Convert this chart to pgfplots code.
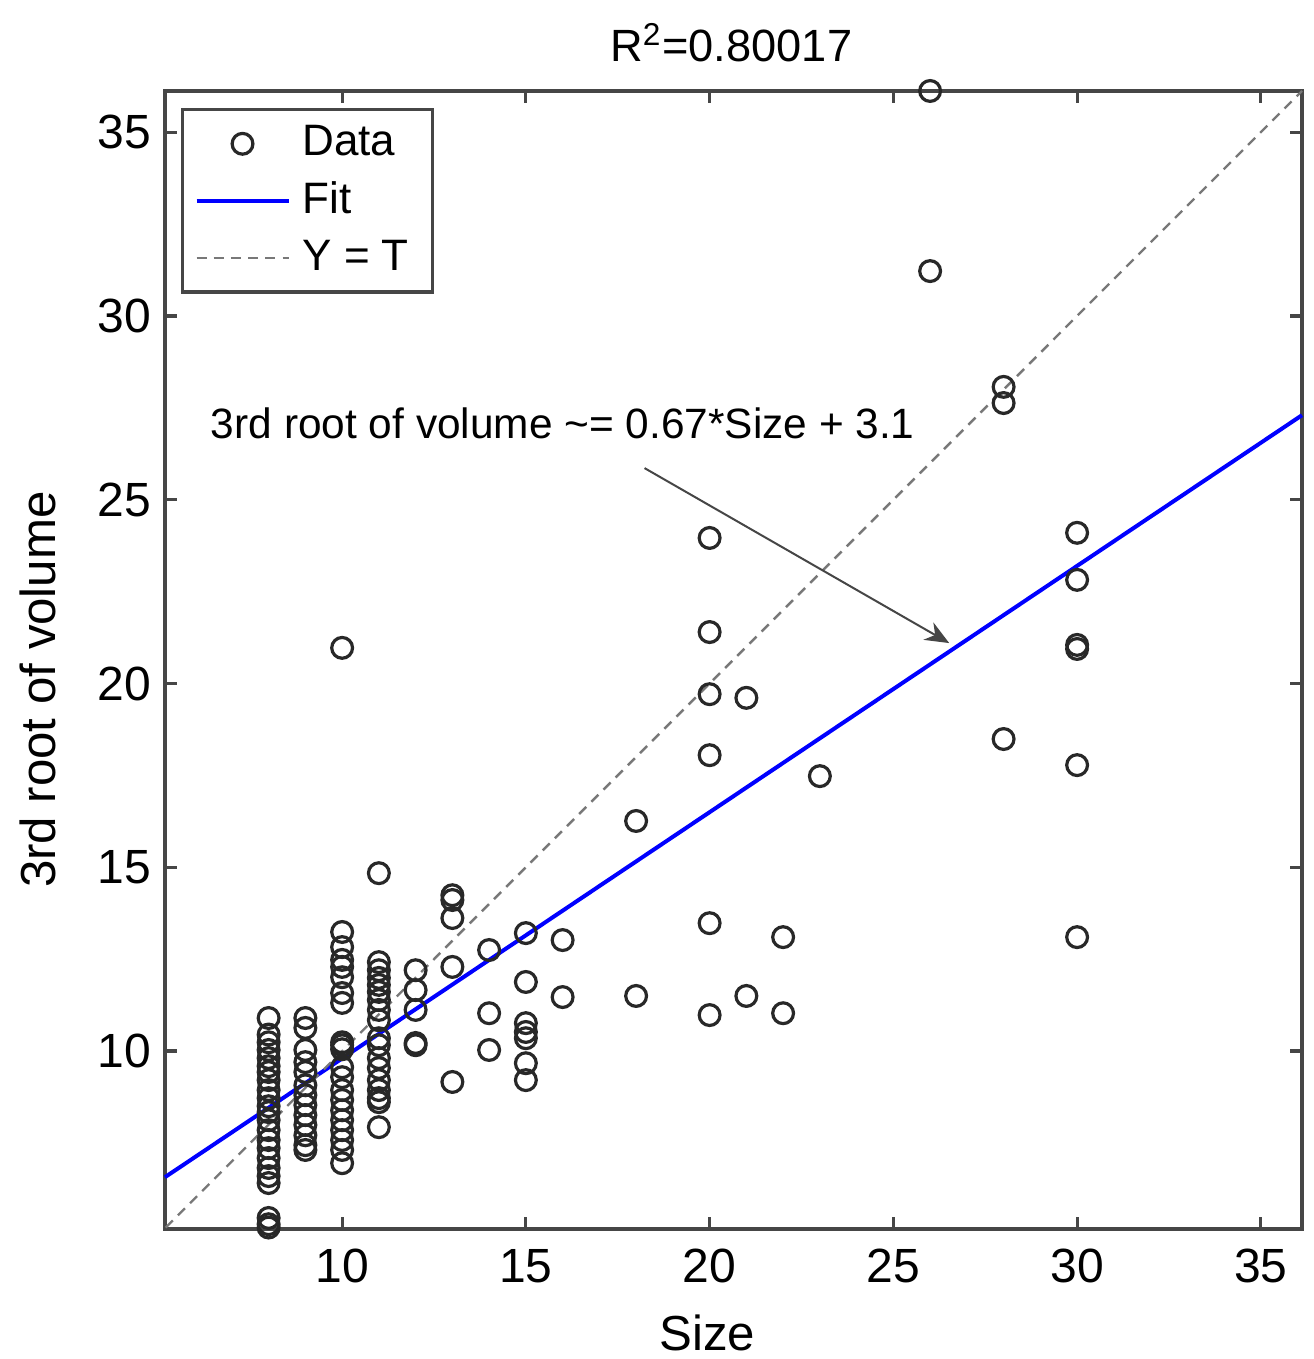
\documentclass[border=0pt]{standalone}
\usepackage{fontspec}
\setmainfont{Liberation Sans}
\usepackage{pgfplots}
\pgfplotsset{compat=1.18}
\usetikzlibrary{arrows.meta}
\definecolor{axisgray}{RGB}{70,70,70}
\definecolor{markgray}{RGB}{40,40,40}
\definecolor{fitblue}{RGB}{0,0,255}
\definecolor{idgray}{RGB}{120,120,120}

\pgfplotsset{
  lineleg/.style={legend image code/.code={\draw[##1] (0pt,0pt) -- (23pt,0pt);}},
  markleg/.style={legend image code/.code={\draw[##1] plot coordinates {(11.5pt,0pt)};}},
}

% scatter data: size vs 3rd root of volume
\pgfplotstableread{
x y
8 10.90
8 10.45
8 10.24
8 10.03
8 9.81
8 9.59
8 9.43
8 9.21
8 8.94
8 8.72
8 8.50
8 8.34
8 8.12
8 7.85
8 7.58
8 7.36
8 7.09
8 6.82
8 6.60
8 6.41
8 5.46
8 5.29
8 5.20
9 10.90
9 10.63
9 10.03
9 9.70
9 9.43
9 9.07
9 8.80
9 8.53
9 8.26
9 7.99
9 7.71
9 7.44
9 7.31
10 20.97
10 13.24
10 12.83
10 12.48
10 12.29
10 12.01
10 11.58
10 11.31
10 10.24
10 10.16
10 10.05
10 9.56
10 9.29
10 8.94
10 8.67
10 8.39
10 8.12
10 7.85
10 7.58
10 7.31
10 6.95
11 14.84
11 12.42
11 12.20
11 11.99
11 11.80
11 11.61
11 11.39
11 11.12
11 10.84
11 10.35
11 10.16
11 9.81
11 9.54
11 9.21
11 8.94
11 8.72
11 8.61
11 7.93
12 12.20
12 11.66
12 11.12
12 10.22
12 10.16
13 14.24
13 14.11
13 13.62
13 12.29
13 9.16
14 12.75
14 11.03
14 10.03
15 13.21
15 11.88
15 10.76
15 10.52
15 10.35
15 9.67
15 9.21
16 13.02
16 11.47
18 16.26
18 11.50
20 23.96
20 21.40
20 19.71
20 18.05
20 13.48
20 10.98
21 19.61
21 11.50
22 13.10
22 11.03
23 17.48
26 36.12
26 31.22
28 28.07
28 27.63
28 18.49
30 24.10
30 22.82
30 21.05
30 20.94
30 17.78
30 13.10
}\sizedata

\begin{document}
\begin{tikzpicture}
\begin{axis}[
  at={(0,0)}, anchor=south west,
  scale only axis,
  width=284.25pt, height=284.5pt,
  xmin=5.18, xmax=36.12,
  ymin=5.16, ymax=36.12,
  xtick={10,15,20,25,30,35},
  ytick={10,15,20,25,30,35},
  tick align=inside,
  major tick length=3pt,
  every tick/.style={axisgray, line width=0.8pt},
  axis line style={axisgray, line width=0.8pt},
  clip=false,
  /pgf/number format/assume math mode=true,
  tick label style={font=\fontsize{12}{14}\selectfont},
  xticklabel style={yshift=-1.5pt},
  title={R\textsuperscript{2}=0.80017},
  title style={at={(rel axis cs:0.498,1)}, anchor=center, yshift=6pt,
               font=\fontsize{11.3}{13}\selectfont},
  xlabel={Size},
  ylabel={3rd root of volume},
  every axis x label/.style={at={(rel axis cs:0.477,0)}, anchor=center, yshift=-26pt,
                             font=\fontsize{12.3}{14}\selectfont},
  every axis y label/.style={at={(rel axis cs:0,0.474)}, rotate=90, anchor=center, yshift=31.75pt,
                             font=\fontsize{12.3}{14}\selectfont},
  legend style={at={(0.014,0.985)}, anchor=north west,
                draw=axisgray, line width=0.8pt, fill=white,
                font=\fontsize{11}{13}\selectfont,
                inner xsep=3pt, inner ysep=2pt, row sep=1pt,
                nodes={inner xsep=3pt, inner ysep=2pt}},
  legend cell align=left,
]
  \addplot[only marks, mark=o, mark size=2.6pt,
           mark options={draw=markgray, line width=0.8pt}, markleg]
    table[x=x, y=y] {\sizedata};
  \addlegendentry{Data}

  \addplot[fitblue, line width=1pt, no marks, lineleg]
    coordinates {(5.18,6.57) (36.12,27.30)};
  \addlegendentry{Fit}

  \addplot[idgray, line width=0.6pt, dash pattern=on 2.5pt off 1.8pt, no marks, lineleg]
    coordinates {(5.2,5.2) (36.12,36.12)};
  \addlegendentry{Y = T}

  \node[anchor=west, inner sep=0pt, font=\fontsize{10.6}{12}\selectfont]
    at (axis cs:6.41,27.09) {3rd root of volume \textasciitilde= 0.67*Size + 3.1};
  \draw[axisgray, line width=0.5pt, -{Stealth[length=6pt, width=5pt]}]
    (axis cs:18.23,25.86) -- (axis cs:26.52,21.10);
\end{axis}
\pgfresetboundingbox
\useasboundingbox (-41.25pt,-32.5pt) rectangle (287.25pt,307.25pt);
\end{tikzpicture}
\end{document}
